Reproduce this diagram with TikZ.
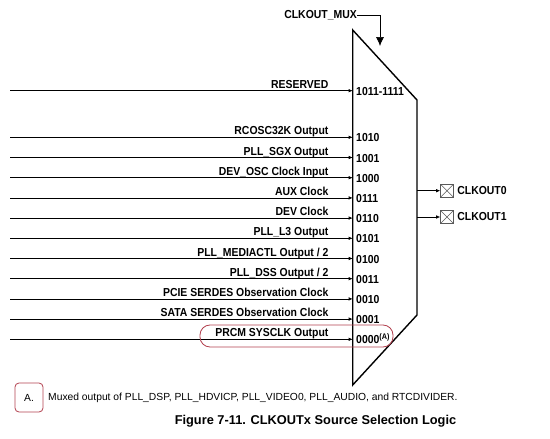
\documentclass[tikz,border=0pt]{standalone}
\usepackage{fontspec}
\setmainfont{Liberation Sans}
\newfontfamily\lblfont[FakeStretch=0.9]{Liberation Sans}
\usetikzlibrary{arrows.meta}
\definecolor{hilite}{RGB}{178,64,78}
\newcommand{\lblsize}{\lblfont\bfseries\fontsize{11.6}{13}\selectfont}
\tikzset{
  lbl/.style={font=\lblsize, inner sep=0pt, anchor=base east},
  code/.style={font=\lblsize, inner xsep=3.3pt, inner ysep=0pt, anchor=base west},
  wire/.style={-{Latex[length=4pt,width=3.5pt]}, line width=0.6pt},
  xbox/.style={draw=black!65, minimum size=13pt, inner sep=0pt, line width=0.6pt,
    path picture={\draw[black!65] (path picture bounding box.north west) -- (path picture bounding box.south east)
      (path picture bounding box.south west) -- (path picture bounding box.north east);}},
}
\begin{document}
\begin{tikzpicture}[x=1pt,y=-1pt]
  \useasboundingbox (0,0) rectangle (550,439);
  % multiplexer body
  \draw[line width=1.4pt, line join=miter] (352.7,30) -- (417,100) -- (417,315) -- (352.7,385) -- cycle;
  % select input
  \node[lbl, anchor=east] (sel) at (357,15) {CLKOUT\_MUX};
  \coordinate (selin) at (380,46);
  \draw[-{Latex[length=9pt,width=8pt]}, line width=0.6pt] (sel.east) -| (selin);
  % inputs
  \coordinate (s1) at (10,90.7);   \node[code] (c1) at (352.7,95.2) {1011-1111};
  \coordinate (s2) at (10,137.3);  \node[code] (c2) at (352.7,141.8) {1010};
  \coordinate (s3) at (10,157.5);  \node[code] (c3) at (352.7,162) {1001};
  \coordinate (s4) at (10,177.7);  \node[code] (c4) at (352.7,182.2) {1000};
  \coordinate (s5) at (10,197.9);  \node[code] (c5) at (352.7,202.4) {0111};
  \coordinate (s6) at (10,218.1);  \node[code] (c6) at (352.7,222.6) {0110};
  \coordinate (s7) at (10,238.3);  \node[code] (c7) at (352.7,242.8) {0101};
  \coordinate (s8) at (10,258.5);  \node[code] (c8) at (352.7,263) {0100};
  \coordinate (s9) at (10,278.7);  \node[code] (c9) at (352.7,283.2) {0011};
  \coordinate (s10) at (10,298.9); \node[code] (c10) at (352.7,303.4) {0010};
  \coordinate (s11) at (10,319.1); \node[code] (c11) at (352.7,323.6) {0001};
  \coordinate (s12) at (10,339.3); \node[code] (c12) at (352.7,343.8) {0000\textsuperscript{(A)}};
  \draw[wire] (s1) -- (s1 -| c1.west) node[lbl, pos=1, xshift=-24pt, yshift=2.5pt] (l1) {RESERVED};
  \draw[wire] (s2) -- (s2 -| c2.west) node[lbl, pos=1, xshift=-24pt, yshift=2.5pt] (l2) {RCOSC32K Output};
  \draw[wire] (s3) -- (s3 -| c3.west) node[lbl, pos=1, xshift=-24pt, yshift=2.5pt] (l3) {PLL\_SGX Output};
  \draw[wire] (s4) -- (s4 -| c4.west) node[lbl, pos=1, xshift=-24pt, yshift=2.5pt] (l4) {DEV\_OSC Clock Input};
  \draw[wire] (s5) -- (s5 -| c5.west) node[lbl, pos=1, xshift=-24pt, yshift=2.5pt] (l5) {AUX Clock};
  \draw[wire] (s6) -- (s6 -| c6.west) node[lbl, pos=1, xshift=-24pt, yshift=2.5pt] (l6) {DEV Clock};
  \draw[wire] (s7) -- (s7 -| c7.west) node[lbl, pos=1, xshift=-24pt, yshift=2.5pt] (l7) {PLL\_L3 Output};
  \draw[wire] (s8) -- (s8 -| c8.west) node[lbl, pos=1, xshift=-24pt, yshift=2.5pt] (l8) {PLL\_MEDIACTL Output / 2};
  \draw[wire] (s9) -- (s9 -| c9.west) node[lbl, pos=1, xshift=-24pt, yshift=2.5pt] (l9) {PLL\_DSS Output / 2};
  \draw[wire] (s10) -- (s10 -| c10.west) node[lbl, pos=1, xshift=-24pt, yshift=2.5pt] (l10) {PCIE SERDES Observation Clock};
  \draw[wire] (s11) -- (s11 -| c11.west) node[lbl, pos=1, xshift=-24pt, yshift=2.5pt] (l11) {SATA SERDES Observation Clock};
  \draw[wire] (s12) -- (s12 -| c12.west) node[lbl, pos=1, xshift=-24pt, yshift=2.5pt] (l12) {PRCM SYSCLK Output};
  % outputs
  \coordinate (m0) at (417,190.7);
  \coordinate (m1) at (417,217);
  \node[xbox, label={[font=\lblsize]right:CLKOUT0}] (o0) at (447,190.7) {};
  \node[xbox, label={[font=\lblsize]right:CLKOUT1}] (o1) at (447,217) {};
  \draw[wire] (m0) -- (o0);
  \draw[wire] (m1) -- (o1);
  % highlight
  \draw[hilite, line width=0.8pt, rounded corners=10pt] (200,325) rectangle (393,347);
  % note
  \draw[hilite, line width=0.8pt, rounded corners=4pt] (15,383) rectangle (43,412);
  \node[font=\fontsize{10.3}{12}\selectfont] (na) at (29,398) {A.};
  \node[font=\fontsize{10.3}{12}\selectfont, anchor=west, inner sep=0pt] (nt) at (48,398) {Muxed output of PLL\_DSP, PLL\_HDVICP, PLL\_VIDEO0, PLL\_AUDIO, and RTCDIVIDER.};
  \node[font=\bfseries\fontsize{12.8}{15}\selectfont] (cap) at (315.5,421) {Figure 7-11. CLKOUTx Source Selection Logic};
\end{tikzpicture}
\end{document}
